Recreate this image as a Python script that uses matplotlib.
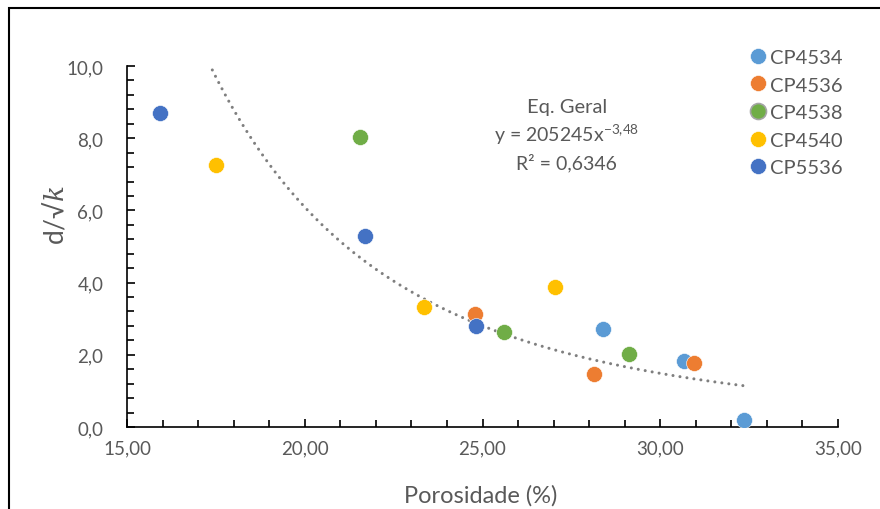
import numpy as np
import matplotlib
matplotlib.use('Agg')
import matplotlib.pyplot as plt
from matplotlib.patches import Rectangle
from matplotlib.ticker import MultipleLocator

plt.rcParams['font.family'] = ['Lato', 'DejaVu Sans']
plt.rcParams['mathtext.fontset'] = 'custom'
plt.rcParams['mathtext.rm'] = 'Lato'
plt.rcParams['mathtext.it'] = 'DejaVu Serif:italic'

# Data (porosity %, d/sqrt(k))
series = ['CP4534', 'CP4536', 'CP4538', 'CP4540', 'CP5536']
colors = ['#5B9BD5', '#ED7D31', '#70AD47', '#FFC000', '#4472C4']
x_cp4534 = [28.39, 30.67, 32.36]
y_cp4534 = [2.71, 1.83, 0.19]
x_cp4536 = [24.79, 28.14, 30.95]
y_cp4536 = [3.13, 1.47, 1.77]
x_cp4538 = [21.55, 25.60, 29.12]
y_cp4538 = [8.03, 2.63, 2.02]
x_cp4540 = [17.50, 23.35, 27.04]
y_cp4540 = [7.26, 3.32, 3.88]
x_cp5536 = [15.93, 21.69, 24.82]
y_cp5536 = [8.70, 5.29, 2.80]
xs = [x_cp4534, x_cp4536, x_cp4538, x_cp4540, x_cp5536]
ys = [y_cp4534, y_cp4536, y_cp4538, y_cp4540, y_cp5536]

# power trendline shown on the chart
coef_a = 205245
coef_b = -3.48
r2 = '0,6346'

grey = '#595959'

fig = plt.figure(figsize=(8.8, 5.1), dpi=100)
ax = fig.add_axes([0.1443, 0.1608, 0.808, 0.7078])

for name, c, x, y in zip(series, colors, xs, ys):
    ax.plot(x, y, 'o', color=c, ms=11.5, mec='white', mew=0.4, label=name, zorder=3)

# trendline over data range
all_x = np.concatenate(xs)
xt = np.linspace(all_x.min(), all_x.max(), 300)
ax.plot(xt, coef_a * xt ** coef_b, color='#7F7F7F', lw=2.2,
        linestyle=(0, (0.01, 2.3)), dash_capstyle='round', zorder=2)

ax.set_xlim(15, 35)
ax.set_ylim(0, 10)
ax.xaxis.set_major_locator(MultipleLocator(5))
ax.xaxis.set_minor_locator(MultipleLocator(1))
ax.yaxis.set_major_locator(MultipleLocator(2))
ax.yaxis.set_minor_locator(MultipleLocator(0.4))
ax.xaxis.set_major_formatter(lambda v, p: f'{v:.2f}'.replace('.', ','))
ax.yaxis.set_major_formatter(lambda v, p: f'{v:.1f}'.replace('.', ','))

for s in ['top', 'right']:
    ax.spines[s].set_visible(False)
for s in ['left', 'bottom']:
    ax.spines[s].set_color('black')
    ax.spines[s].set_linewidth(1.2)

ax.tick_params(which='both', direction='in', colors='black', labelcolor=grey, labelsize=13.5, width=1.2)
ax.tick_params(axis='x', which='major', length=6, pad=9)
ax.tick_params(axis='x', which='minor', length=5)
ax.tick_params(axis='y', which='major', length=6, pad=17)
ax.tick_params(axis='y', which='minor', length=5)

ax.set_xlabel('Porosidade (%)', fontsize=17, color=grey, va='center')
ax.xaxis.set_label_coords(0.498, -0.188)
ax.set_ylabel(r'd/√$\mathit{k}$', fontsize=19, color=grey, va='center')
ax.yaxis.set_label_coords(-0.101, 0.59)

# equation text
fig.text(0.644, 0.790, 'Eq. Geral', ha='center', va='center', fontsize=14.5, color=grey)
fig.text(0.644, 0.735, r'y = 205245x$^{\mathregular{-3{,}48}}$', ha='center', va='center', fontsize=14, color=grey)
fig.text(0.644, 0.680, 'R² = ' + r2, ha='center', va='center', fontsize=14, color=grey)

leg = ax.legend(loc='upper left', bbox_to_anchor=(0.840, 0.918), bbox_transform=fig.transFigure,
                frameon=False, fontsize=14.5, labelcolor=grey, handletextpad=0.05,
                labelspacing=0.52, handlelength=1.1, borderaxespad=0)
leg.legend_handles[2].set_markeredgecolor('#A5A5A5')
leg.legend_handles[2].set_markeredgewidth(1.2)

# outer chart border (cut at right/bottom)
fig.add_artist(Rectangle((0.0097, -0.05), 1.1, 1.032, transform=fig.transFigure,
                         fill=False, edgecolor='black', lw=1.5))

fig.savefig('out.png', dpi=100)
